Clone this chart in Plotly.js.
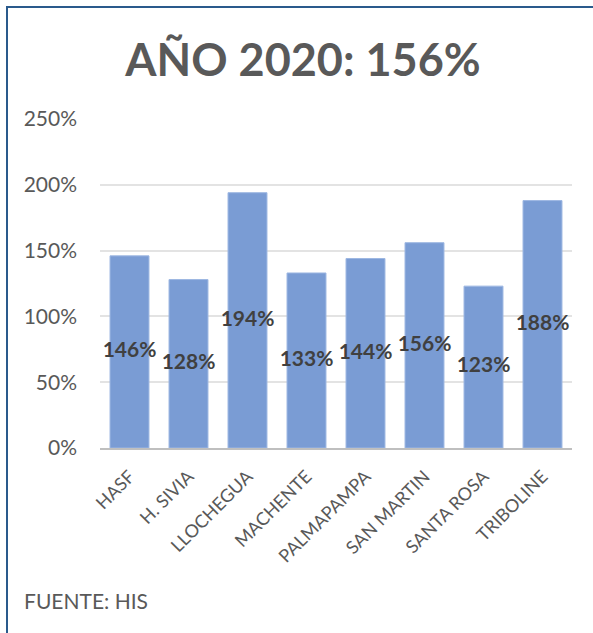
<!DOCTYPE html>
<html>
<head>
<meta charset="utf-8">
<script src="https://cdn.plot.ly/plotly-3.0.1.min.js"></script>
<style>
  html, body { margin: 0; padding: 0; background: #fff; }
  #wrap { position: relative; width: 593px; height: 633px; overflow: hidden; }
  #chart { position: absolute; left: 0; top: 0; width: 593px; height: 633px; }
  #frame { position: absolute; left: 6px; top: 6px; width: 600px; height: 640px;
           border-left: 2px solid #2A5A8C; border-top: 2px solid #2A5A8C; pointer-events: none; }
</style>
</head>
<body>
<div id="wrap">
  <div id="chart"></div>
  <div id="frame"></div>
</div>
<script>
const categories = ["HASF", "H. SIVIA", "LLOCHEGUA", "MACHENTE", "PALMAPAMPA", "SAN MARTIN", "SANTA ROSA", "TRIBOLINE"];
const values = [146, 128, 194, 133, 144, 156, 123, 188];
const valueLabels = ["146%", "128%", "194%", "133%", "144%", "156%", "123%", "188%"];
const yTickVals = [0, 50, 100, 150, 200, 250];
const yTickText = ["0%", "50%", "100%", "150%", "200%", "250%"];
const titleText = "AÑO 2020: 156%";
const sourceText = "FUENTE: HIS";

const W = 593, H = 633;
const L = 100, R = 21, T = 119, B = 185;
const plotW = W - L - R, plotH = H - T - B;
const FONT = "Lato, 'Open Sans', sans-serif";

const bars = {
  type: "bar",
  x: categories,
  y: values,
  marker: { color: "#7A9CD4", line: { color: "#9DB7E2", width: 1 } },
  hoverinfo: "skip",
  showlegend: false
};

const labels = {
  type: "scatter",
  mode: "text",
  x: categories,
  y: values.map(v => v / 2),
  text: valueLabels,
  textposition: "middle center",
  textfont: { family: FONT, size: 21, color: "#404040", weight: "bold" },
  hoverinfo: "skip",
  showlegend: false,
  cliponaxis: false
};

const layout = {
  width: W, height: H,
  margin: { l: L, r: R, t: T, b: B, pad: 0 },
  paper_bgcolor: "#ffffff",
  plot_bgcolor: "#ffffff",
  font: { family: FONT, color: "#595959" },
  bargap: 0.34,
  title: {
    text: "<b>" + titleText + "</b>",
    font: { family: FONT, size: 45, color: "#595959" },
    xref: "paper", x: (303 - L) / plotW, xanchor: "center",
    yref: "container", y: 1 - 60 / H, yanchor: "middle"
  },
  xaxis: {
    type: "category",
    tickangle: -45,
    tickfont: { family: FONT, size: 18, color: "#595959" },
    showgrid: false,
    showline: true, linecolor: "#BFBFBF", linewidth: 2,
    ticks: "", ticklabelstandoff: 9,
    fixedrange: true
  },
  yaxis: {
    range: [0, 250],
    tickvals: yTickVals,
    ticktext: yTickText,
    tickfont: { family: FONT, size: 21, color: "#595959" },
    showgrid: true, gridcolor: "#E3E3E3", gridwidth: 2,
    zeroline: false, showline: false,
    ticks: "", ticklabelstandoff: 22,
    fixedrange: true
  },
  annotations: [{
    text: sourceText,
    xref: "paper", yref: "paper",
    x: (22 - L) / plotW, y: (H - B - 600) / plotH,
    xanchor: "left", yanchor: "middle",
    showarrow: false,
    font: { family: FONT, size: 21, color: "#595959" }
  }]
};

Plotly.newPlot("chart", [bars, labels], layout, { staticPlot: true, displayModeBar: false });
</script>
</body>
</html>
